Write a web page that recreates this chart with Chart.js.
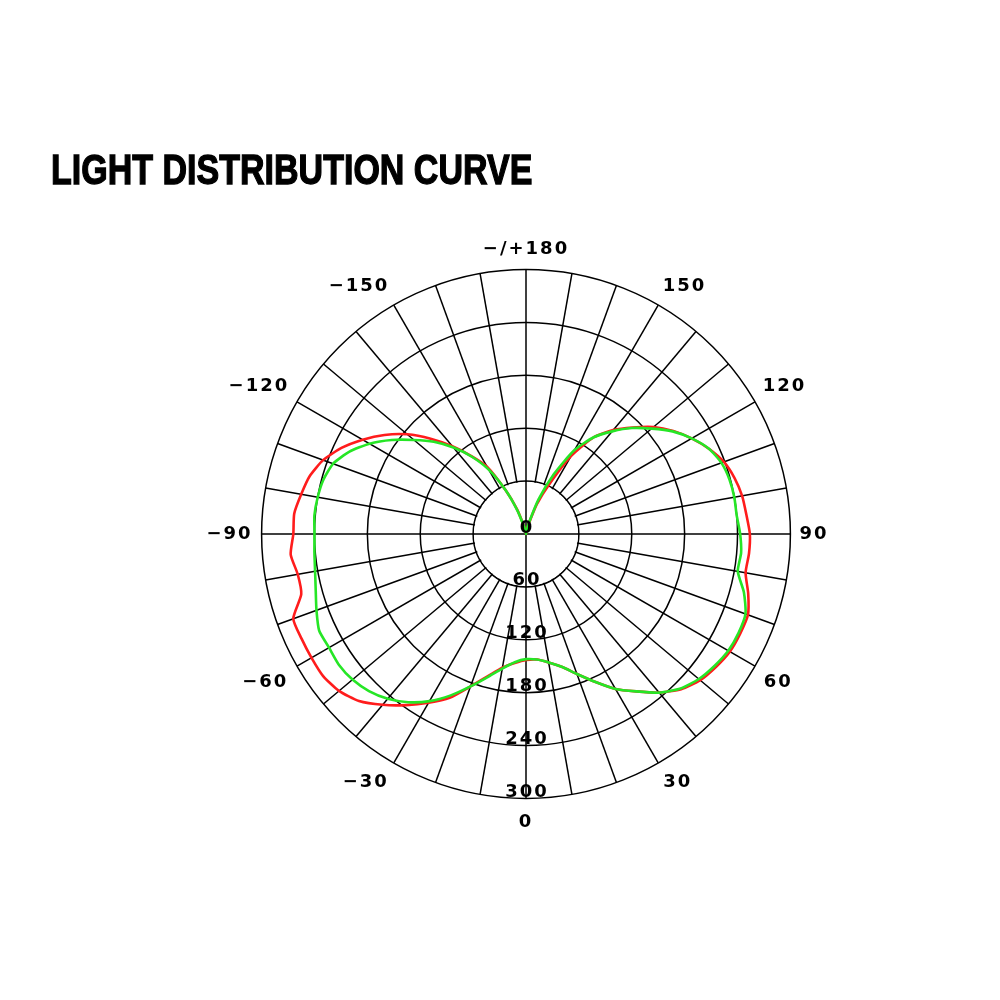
<!DOCTYPE html>
<html>
<head>
<meta charset="utf-8">
<script src="https://cdn.jsdelivr.net/npm/chart.js@4/dist/chart.umd.min.js"></script>
<style>
  html, body { margin: 0; padding: 0; background: #fff; }
  #wrap { position: relative; width: 1000px; height: 1000px; }
  #title {
    position: absolute; left: 51px; top: 149px; z-index: 2;
    font: bold 42px/42px "Liberation Sans", Arial, sans-serif;
    color: #000; -webkit-text-stroke: 1.3px #000;
    transform: scaleX(0.81); transform-origin: 0 0; white-space: nowrap;
  }
  #polar { position: absolute; left: 0; top: 0; }
</style>
</head>
<body>
<div id="wrap">
  <div id="title">LIGHT DISTRIBUTION CURVE</div>
  <canvas id="polar" width="1000" height="1000"></canvas>
</div>
<script>
// angles, clockwise from the top of the diagram
var angles = [180, 175, 170, 165, 160, 155, 150, 145, 140, 135, 130, 125, 120, 115, 110, 105, 100, 95,
  90, 85, 80, 75, 70, 65, 60, 55, 50, 45, 40, 35, 30, 25, 20, 15, 10, 5,
  0, -5, -10, -15, -20, -25, -30, -35, -40, -45, -50, -55, -60, -65, -70, -75, -80, -85,
  -90, -95, -100, -105, -110, -115, -120, -125, -130, -135, -140, -145, -150, -155, -160, -165, -170, -175]

var redValues = [0, 1, 4, 12, 36, 62, 102, 134, 154, 171, 189, 204, 217, 229, 239, 245, 249, 251,
  254, 254, 253, 261, 268, 268, 267, 263, 258, 249, 235, 218, 203, 185, 169, 156, 148, 143,
  143, 147, 154, 167, 184, 205, 221, 237, 253, 268, 277, 281, 281, 281, 281, 264, 263, 268,
  264, 264, 259, 254, 245, 231, 214, 196, 176, 153, 130, 108, 88, 55, 30, 10, 3, 1]

var greenValues = [0, 1, 4, 14, 42, 75, 110, 134, 152, 170, 186, 203, 217, 229, 236, 239, 240, 240,
  243, 245, 244, 256, 265, 266, 265, 261, 256, 248, 235, 218, 203, 185, 169, 156, 148, 143,
  142, 146, 155, 168, 184, 202, 219, 233, 244, 252, 257, 259, 258, 259, 253, 247, 243, 241,
  240, 241, 240, 238, 233, 221, 205, 186, 166, 148, 128, 107, 84, 55, 28, 9, 3, 1]

var ringTicks = [0, 60, 120, 180, 240, 300]

var labelFont = { family: '"DejaVu Sans", Verdana, sans-serif', weight: 'bold', size: 18 }
var tracking = '2px'

// wide tracking like the printed labels
var spacing = {
  id: 'spacing',
  beforeLayout: function(chart) { chart.ctx.letterSpacing = tracking },
  beforeDraw: function(chart) { chart.ctx.letterSpacing = tracking }
}

// clear the inner disc so spokes start at the first ring, keep the two axes
var innerDisc = {
  id: 'innerDisc',
  beforeDatasetsDraw: function(chart) {
    var s = chart.scales.r
    var ctx = chart.ctx
    var r0 = s.getDistanceFromCenterForValue(ringTicks[1])
    ctx.save()
    ctx.beginPath()
    ctx.arc(s.xCenter, s.yCenter, r0 - 1, 0, Math.PI * 2)
    ctx.fillStyle = '#fff'
    ctx.fill()
    ctx.beginPath()
    ctx.moveTo(s.xCenter - r0, s.yCenter)
    ctx.lineTo(s.xCenter + r0, s.yCenter)
    ctx.moveTo(s.xCenter, s.yCenter - r0)
    ctx.lineTo(s.xCenter, s.yCenter + r0)
    ctx.strokeStyle = '#000'
    ctx.lineWidth = 1.5
    ctx.stroke()
    ctx.restore()
  },
  afterDatasetsDraw: function(chart) {
    var s = chart.scales.r
    var ctx = chart.ctx
    ctx.save()
    ctx.letterSpacing = tracking
    ctx.font = 'bold 18px "DejaVu Sans", Verdana, sans-serif'
    ctx.fillStyle = '#000'
    ctx.textAlign = 'center'
    ctx.textBaseline = 'alphabetic'
    ringTicks.forEach(function(v) {
      ctx.fillText(String(v), s.xCenter + 1, s.yCenter + s.getDistanceFromCenterForValue(v) - 1.5)
    })
    ctx.restore()
  }
}

new Chart(document.getElementById('polar'), {
  type: 'radar',
  data: {
    labels: angles,
    datasets: [
      { label: 'C0-C180', data: redValues, borderColor: '#ff1c1c', borderWidth: 2.6, order: 1 },
      { label: 'C90-C270', data: greenValues, borderColor: '#26e626', borderWidth: 2.6, order: 0 }
    ]
  },
  options: {
    responsive: false,
    animation: false,
    layout: { padding: { left: 156, right: 104, top: 238, bottom: 164 } },
    elements: {
      point: { radius: 0, hoverRadius: 0 },
      line: { fill: false, tension: 0.2 }
    },
    plugins: { legend: { display: false }, tooltip: { enabled: false } },
    scales: {
      r: {
        min: 0,
        max: 300,
        ticks: { stepSize: 60, display: false },
        grid: { circular: true, color: '#000', lineWidth: 1.5 },
        angleLines: {
          color: '#000',
          lineWidth: function(c) { return c.index % 2 === 0 ? 1.5 : 0 }
        },
        pointLabels: {
          padding: function(c) {
            if (c.index === 36) return 13
            return (c.index > 18 && c.index < 54) ? 10 : 9
          },
          color: '#000',
          font: labelFont,
          callback: function(label) {
            if (label % 30 !== 0) return ''
            if (label === 180) return '\u2212/+180'
            return String(label).replace('-', '\u2212')
          }
        }
      }
    }
  },
  plugins: [spacing, innerDisc]
})
</script>
</body>
</html>
